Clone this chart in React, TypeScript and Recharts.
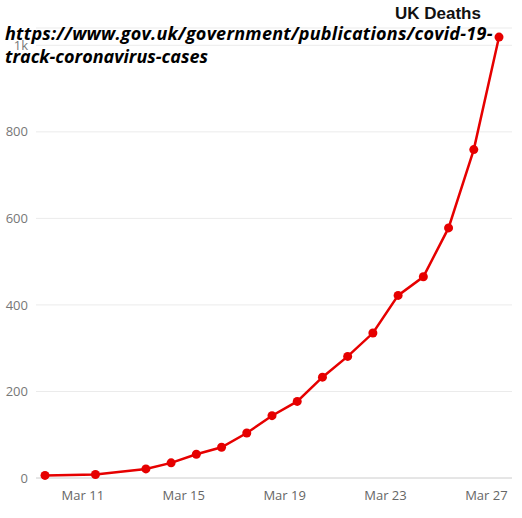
import { CartesianGrid, Line, LineChart, XAxis, YAxis } from "recharts";

// UK cumulative deaths, day of March
const days = [9, 11, 13, 14, 15, 16, 17, 18, 19, 20, 21, 22, 23, 24, 25, 26, 27];
const deaths = [6, 8, 21, 35, 55, 71, 104, 144, 177, 233, 281, 335, 422, 465, 578, 759, 1019];

const xTicks = [11, 15, 19, 23, 27];
const yTicks = [0, 200, 400, 600, 800, 1000];

const RED = "#e60000";

// points sit at noon of each day, tick labels at midnight
const data = days.map((d, i) => ({ x: d + 0.5, deaths: deaths[i] }));

function fmtY(v: number): string {
  return v >= 1000 ? `${v / 1000}k` : String(v);
}

export default function App() {
  return (
    <div style={{ position: "absolute", left: 0, top: 0, width: 522, height: 518, background: "#fff" }}>
      <LineChart width={522} height={518} data={data} margin={{ top: 28, right: 10, left: 0, bottom: 10 }}>
        <CartesianGrid vertical={false} stroke="#ebebeb" />
        <XAxis
          dataKey="x"
          type="number"
          domain={[9.143, 28.015]}
          ticks={xTicks}
          tickFormatter={(v: number) => `Mar ${v}`}
          allowDataOverflow
          height={30}
          tickLine={false}
          tickSize={0}
          tickMargin={13}
          axisLine={{ stroke: "#d6d6d6" }}
          tick={{ fontSize: 13, fill: "#666", fontFamily: "Open Sans" }}
        />
        <YAxis
          type="number"
          domain={[0, 1040]}
          ticks={yTicks}
          tickFormatter={fmtY}
          width={36}
          axisLine={false}
          tickLine={false}
          tickSize={0}
          tickMargin={8}
          tick={{ fontSize: 13, fill: "#777", fontFamily: "Open Sans" }}
        />
        <Line
          dataKey="deaths"
          stroke={RED}
          strokeWidth={2.5}
          dot={{ r: 4.5, fill: RED, stroke: RED, strokeWidth: 0 }}
          isAnimationActive={false}
        />
      </LineChart>
      <div
        style={{
          position: "absolute",
          left: 395,
          top: 4,
          fontFamily: "Liberation Sans, Arial",
          fontWeight: "bold",
          fontSize: 17,
          color: "#111",
        }}
      >
        UK Deaths
      </div>
      <div
        style={{
          position: "absolute",
          left: 5,
          top: 22,
          width: 515,
          fontFamily: "Open Sans",
          fontWeight: "bold",
          fontStyle: "italic",
          fontSize: 18,
          lineHeight: "23px",
          color: "#000",
          whiteSpace: "nowrap",
        }}
      >
        <span style={{ letterSpacing: 0.25 }}>https://www.gov.uk/government/publications/covid-19-</span>
        <br />
        <span>track-coronavirus-cases</span>
      </div>
    </div>
  );
}
